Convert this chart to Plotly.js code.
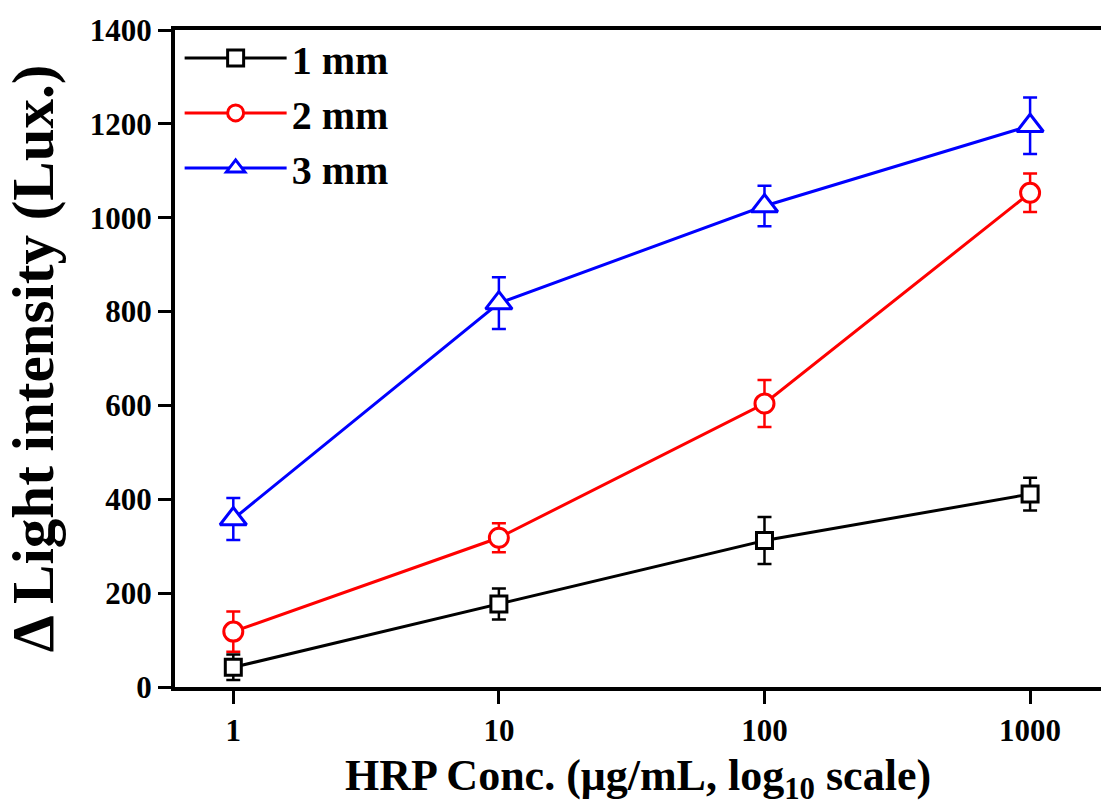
<!DOCTYPE html>
<html>
<head>
<meta charset="utf-8">
<script src="https://cdn.plot.ly/plotly-3.0.1.min.js"></script>
<style>html,body{margin:0;padding:0;background:#fff;}#chart{width:1101px;height:806px;}</style>
</head>
<body>
<div id="chart"></div>
<script>
const conc = [1, 10, 100, 1000];
const tickLabels = ['1', '10', '100', '1000'];
const seriesNames = ['1 mm', '2 mm', '3 mm'];
const mm1 = [42, 177, 312, 411];
const mm1Err = [27, 33, 50, 35];
const mm2 = [118, 318, 604, 1053];
const mm2Err = [43, 31, 50, 41];
const mm3 = [358, 818, 1025, 1196];
const mm3Err = [45, 55, 43, 60];

const colors = ['#000000', '#ff0000', '#0000ff'];
const symbols = ['square', 'circle', 'triangle-up'];
const sizes = [16, 19, 23];
const ys = [mm1, mm2, mm3];
const errs = [mm1Err, mm2Err, mm3Err];

const font = 'Liberation Serif, Times New Roman, serif';

const traces = ys.map((y, i) => ({
  x: conc,
  y: y,
  name: seriesNames[i],
  type: 'scatter',
  mode: 'lines+markers',
  line: {color: colors[i], width: 3},
  marker: {symbol: symbols[i], size: sizes[i], color: '#ffffff',
           line: {color: colors[i], width: 3}},
  error_y: {type: 'data', array: errs[i], visible: true, color: colors[i], thickness: 2.5, width: 7}
}));

const layout = {
  width: 1101, height: 806,
  margin: {l: 175, r: 0, t: 30, b: 119},
  paper_bgcolor: '#ffffff', plot_bgcolor: '#ffffff',
  showlegend: true,
  legend: {x: 0.005, y: 1.007, xanchor: 'left', yanchor: 'top', bgcolor: 'rgba(0,0,0,0)',
           font: {family: font, size: 40, color: '#000', weight: 'bold'},
           itemwidth: 102, tracegroupgap: 0},
  xaxis: {
    type: 'log', range: [-0.2195, 3.267],
    tickvals: conc, ticktext: tickLabels,
    showgrid: false, zeroline: false,
    showline: true, linecolor: '#000', linewidth: 4, mirror: true,
    ticks: 'outside', ticklen: 13, tickwidth: 3, tickcolor: '#000',
    tickfont: {family: font, size: 31, color: '#000', weight: 'bold'},
    title: {text: 'HRP Conc. (μg/mL, log<sub>10</sub> scale)', standoff: 16,
            font: {family: font, size: 44, color: '#000', weight: 'bold'}}
  },
  yaxis: {
    range: [0, 1400], dtick: 200, tick0: 0,
    showgrid: false, zeroline: false,
    showline: true, linecolor: '#000', linewidth: 4,
    ticks: 'outside', ticklen: 13, tickwidth: 3, tickcolor: '#000',
    tickfont: {family: font, size: 31, color: '#000', weight: 'bold'},
    title: {text: 'Δ Light intensity (Lux.)', standoff: 18,
            font: {family: font, size: 59, color: '#000', weight: 'bold'}}
  }
};

Plotly.newPlot('chart', traces, layout, {displayModeBar: false, staticPlot: true});
</script>
</body>
</html>
